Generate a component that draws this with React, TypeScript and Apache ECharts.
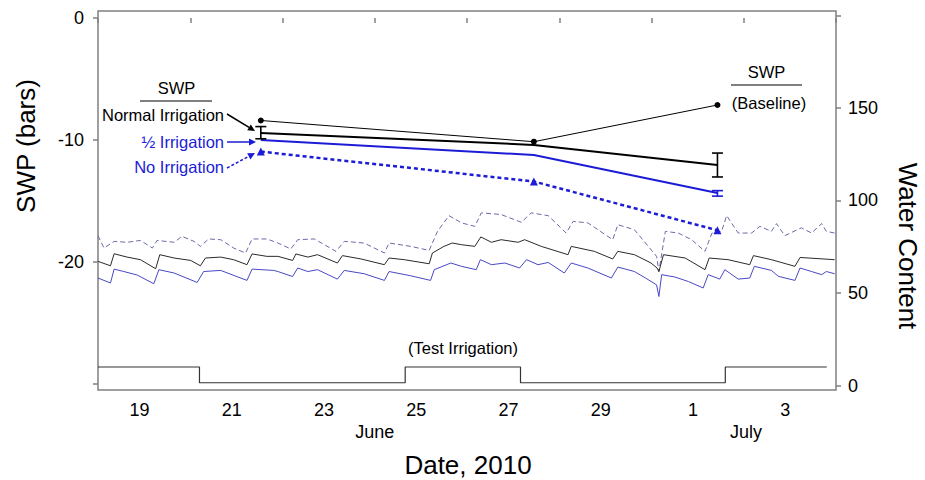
import React, { useEffect, useRef } from "react";
import * as echarts from "echarts";

// ---- Data (x = day number, June 19 = 19, July 1 = 31) ----
const tickDays = [18, 20, 22, 24, 26, 28, 30, 32, 34];
const labelDays = [18.9, 20.9, 22.9, 24.9, 26.9, 28.9, 30.9, 32.9];
const dayLabels = ["19", "21", "23", "25", "27", "29", "1", "3"];
const monthDays = [24, 32.05];
const monthLabels = ["June", "July"];

const swpTicks = [0, -10, -20, -30];
const swpLabels = [0, -10, -20];
const wcTicks = [0, 50, 100, 150, 200];
const wcLabels = [0, 50, 100, 150];

// SWP measurements (bars)
const swpDays = [21.53, 27.45, 31.43];
const swpBaseline = [-8.4, -10.14, -7.13];
const swpNormal = [-9.43, -10.4, -12.05];
const swpHalf = [-10.0, -11.23, -14.35];
const swpNone = [-10.95, -13.4, -17.4];
const normalErr = [
  [21.53, -8.9, -9.9],
  [31.43, -11.07, -13.03],
];
const halfErr = [[31.43, -14.15, -14.6]];

// Water content traces [day, value]
const waterNormal = [
  [18.0, 67.1], [18.27, 64.7], [18.35, 71.2], [18.63, 69.4], [18.92, 68.0], [19.25, 63.1],
  [19.34, 70.7], [19.65, 68.9], [20.01, 67.6], [20.22, 64.7], [20.33, 68.9], [20.66, 69.4],
  [20.94, 68.0], [21.23, 65.3], [21.34, 71.1], [21.66, 69.8], [21.9, 69.8], [22.22, 67.6],
  [22.29, 71.1], [22.55, 69.4], [22.76, 70.7], [23.19, 66.2], [23.3, 70.2], [23.7, 68.4],
  [24.21, 65.3], [24.31, 68.9], [24.64, 68.0], [25.18, 65.8], [25.25, 71.6], [25.5, 75.2],
  [25.68, 77.0], [25.88, 76.1], [26.17, 75.2], [26.3, 80.3], [26.53, 77.4], [26.74, 78.8],
  [27.11, 77.4], [27.25, 78.8], [27.61, 75.2], [28.19, 70.7], [28.26, 75.2], [28.76, 72.5],
  [29.16, 68.4], [29.27, 72.5], [29.63, 70.7], [29.99, 66.2], [30.12, 63.5], [30.16, 61.6],
  [30.26, 70.7], [30.73, 68.9], [31.16, 62.6], [31.25, 68.9], [31.66, 68.0], [32.13, 65.3],
  [32.21, 70.2], [32.6, 68.0], [33.11, 64.4], [33.22, 69.2], [33.97, 68.0],
];
const waterHalf = [
  [18.0, 58.1], [18.27, 55.4], [18.35, 62.9], [18.56, 61.6], [18.85, 59.7], [19.21, 55.0],
  [19.32, 62.6], [19.65, 60.8], [20.15, 55.7], [20.29, 61.6], [20.66, 62.2], [21.23, 56.8],
  [21.34, 62.9], [21.81, 62.2], [21.9, 61.6], [22.22, 58.9], [22.33, 63.5], [22.55, 61.6],
  [22.76, 62.6], [23.19, 57.5], [23.34, 62.2], [23.77, 60.4], [24.21, 56.8], [24.31, 61.6],
  [24.78, 59.3], [25.21, 56.8], [25.29, 62.6], [25.65, 66.2], [25.88, 64.4], [26.2, 62.6],
  [26.29, 68.0], [26.53, 65.3], [26.82, 66.2], [27.14, 63.5], [27.29, 68.0], [27.54, 65.3],
  [27.76, 66.5], [28.11, 60.8], [28.26, 66.2], [28.62, 63.5], [29.13, 58.1], [29.27, 64.0],
  [29.63, 61.6], [29.87, 58.1], [30.11, 54.4], [30.16, 48.1], [30.22, 59.9], [30.51, 58.6],
  [30.8, 56.2], [31.12, 52.7], [31.23, 59.9], [31.48, 57.5], [31.59, 62.6], [31.88, 57.5],
  [32.13, 58.1], [32.23, 64.4], [32.6, 62.2], [32.75, 59.0], [33.11, 56.8], [33.22, 63.5],
  [33.47, 61.6], [33.69, 59.9], [33.79, 61.6], [33.97, 60.4],
];
const waterNone = [
  [18.0, 81.0], [18.13, 74.3], [18.35, 77.9], [18.63, 77.4], [18.92, 78.4], [19.18, 74.3],
  [19.28, 78.4], [19.65, 77.4], [19.82, 80.6], [20.08, 77.9], [20.22, 75.2], [20.4, 79.2],
  [20.66, 78.8], [20.94, 74.3], [21.2, 71.6], [21.34, 79.2], [21.66, 79.2], [21.9, 77.0],
  [22.18, 73.8], [22.33, 78.8], [22.69, 79.2], [23.16, 72.5], [23.34, 77.9], [23.77, 77.0],
  [24.21, 71.6], [24.31, 77.0], [24.78, 75.2], [25.18, 73.0], [25.36, 83.3], [25.61, 91.8],
  [25.88, 87.9], [26.17, 86.0], [26.31, 93.3], [26.74, 92.4], [27.18, 88.2], [27.39, 93.3],
  [27.76, 91.8], [28.15, 82.4], [28.3, 88.7], [28.62, 87.9], [29.16, 78.8], [29.27, 86.9],
  [29.63, 84.2], [29.87, 77.0], [30.11, 69.8], [30.16, 61.6], [30.3, 83.3], [30.58, 82.4],
  [30.87, 78.8], [31.16, 72.5], [31.31, 82.4], [31.52, 83.3], [31.63, 91.8], [31.88, 82.4],
  [32.17, 82.4], [32.35, 86.0], [32.6, 83.3], [32.71, 87.5], [32.89, 81.0], [33.25, 85.2],
  [33.47, 82.4], [33.69, 87.5], [33.79, 83.3], [33.97, 82.4],
];
// Test irrigation schedule (step trace, water content axis)
const irrigation = [
  [18.0, 10], [20.2, 1.5], [24.66, 10], [27.16, 1.5], [31.6, 10], [33.8, 10],
];

const FONT = "'Liberation Sans', Arial, sans-serif";
const AXIS_GRAY = "#808080";
const SWP_BLUE = "#1c1cd6";

function zip(xs: number[], ys: number[]) {
  return xs.map((x, i) => [x, ys[i]]);
}

function arrow(x1: number, y1: number, x2: number, y2: number, color: string, dashed: boolean) {
  const dx = x2 - x1;
  const dy = y2 - y1;
  const len = Math.sqrt(dx * dx + dy * dy);
  const ux = dx / len;
  const uy = dy / len;
  const L = 7;
  const W = 3.5;
  const bx = x2 - ux * L;
  const by = y2 - uy * L;
  return [
    {
      type: "line",
      shape: { x1, y1, x2: bx, y2: by },
      style: { stroke: color, lineWidth: 1.5, lineDash: dashed ? [3, 2] : null },
    },
    {
      type: "polygon",
      shape: {
        points: [
          [x2, y2],
          [bx - uy * W, by + ux * W],
          [bx + uy * W, by - ux * W],
        ],
      },
      style: { fill: color },
    },
  ];
}

function errRender(color: string) {
  return (params: any, api: any) => {
    const x = api.value(0);
    const p1 = api.coord([x, api.value(1)]);
    const p2 = api.coord([x, api.value(2)]);
    const w = 5.5;
    const st = { stroke: color, lineWidth: 1.6 };
    return {
      type: "group",
      children: [
        { type: "line", shape: { x1: p1[0], y1: p1[1], x2: p2[0], y2: p2[1] }, style: st },
        { type: "line", shape: { x1: p1[0] - w, y1: p1[1], x2: p1[0] + w, y2: p1[1] }, style: st },
        { type: "line", shape: { x1: p2[0] - w, y1: p2[1], x2: p2[0] + w, y2: p2[1] }, style: st },
      ],
    };
  };
}

export default function App() {
  const ref = useRef<HTMLDivElement>(null);

  useEffect(() => {
    if (!ref.current) return;
    const chart = echarts.init(ref.current, null, { renderer: "svg" });

    const textStyle = (text: string, size: number, color = "#000") => ({
      text,
      fill: color,
      font: `${size}px ${FONT}`,
      align: "center",
      verticalAlign: "middle",
    });

    const graphic: any[] = [
      // axis titles
      { type: "text", x: 26, y: 146, rotation: Math.PI / 2, style: textStyle("SWP (bars)", 26) },
      { type: "text", x: 908, y: 246, rotation: -Math.PI / 2, style: textStyle("Water Content", 26) },
      { type: "text", x: 468, y: 465, style: textStyle("Date, 2010", 26) },
      // left legend
      { type: "text", x: 176.5, y: 88, style: textStyle("SWP", 16.5) },
      { type: "line", shape: { x1: 140, y1: 101, x2: 212, y2: 101 }, style: { stroke: "#000", lineWidth: 1 } },
      { type: "text", x: 224, y: 115, style: { ...textStyle("Normal Irrigation", 16.5), align: "right" } },
      { type: "text", x: 224, y: 142, style: { ...textStyle("½ Irrigation", 16.5, SWP_BLUE), align: "right" } },
      { type: "text", x: 224, y: 167, style: { ...textStyle("No Irrigation", 16.5, SWP_BLUE), align: "right" } },
      ...arrow(227, 114, 255, 131, "#000", false),
      ...arrow(227, 142, 256, 142, SWP_BLUE, false),
      ...arrow(227, 168, 255, 153, SWP_BLUE, true),
      // right legend
      { type: "text", x: 766.5, y: 72, style: textStyle("SWP", 16.5) },
      { type: "line", shape: { x1: 731, y1: 85, x2: 802, y2: 85 }, style: { stroke: "#000", lineWidth: 1 } },
      { type: "text", x: 769, y: 103, style: textStyle("(Baseline)", 16.5) },
      // test irrigation label
      { type: "text", x: 463, y: 348, style: textStyle("(Test Irrigation)", 16.5) },
    ];

    chart.setOption({
      animation: false,
      backgroundColor: "#fff",
      textStyle: { fontFamily: FONT },
      grid: {
        left: 98,
        right: 89,
        top: 11,
        bottom: 90,
        show: true,
        borderColor: AXIS_GRAY,
        borderWidth: 1.5,
        backgroundColor: "transparent",
      },
      xAxis: [
        {
          type: "value",
          min: 18,
          max: 34,
          position: "bottom",
          splitLine: { show: false },
          axisLine: { show: false },
          axisTick: {
            show: true,
            length: 5,
            customValues: tickDays,
            lineStyle: { color: AXIS_GRAY, width: 1.5 },
          },
          axisLabel: {
            customValues: labelDays,
            formatter: (v: number) => {
              const i = labelDays.findIndex((d) => Math.abs(d - v) < 0.01);
              return i >= 0 ? dayLabels[i] : "";
            },
            fontSize: 18,
            color: "#000",
            margin: 11,
            fontFamily: FONT,
          },
        },
        {
          type: "value",
          min: 18,
          max: 34,
          position: "bottom",
          splitLine: { show: false },
          axisLine: { show: false },
          axisTick: { show: false },
          axisLabel: {
            customValues: monthDays,
            formatter: (v: number) => {
              const i = monthDays.findIndex((d) => Math.abs(d - v) < 0.01);
              return i >= 0 ? monthLabels[i] : "";
            },
            fontSize: 18,
            color: "#000",
            margin: 33,
            fontFamily: FONT,
          },
        },
      ],
      yAxis: [
        {
          type: "value",
          position: "left",
          min: -30.49,
          max: 0.574,
          splitLine: { show: false },
          axisLine: { show: false },
          axisTick: {
            show: true,
            length: 5,
            customValues: swpTicks,
            lineStyle: { color: AXIS_GRAY, width: 1.5 },
          },
          axisLabel: {
            customValues: swpLabels,
            fontSize: 18,
            color: "#000",
            margin: 14,
            fontFamily: FONT,
          },
        },
        {
          type: "value",
          position: "right",
          min: -2.43,
          max: 202.4,
          splitLine: { show: false },
          axisLine: { show: false },
          axisTick: {
            show: true,
            length: 5,
            customValues: wcTicks,
            lineStyle: { color: AXIS_GRAY, width: 1.5 },
          },
          axisLabel: {
            customValues: wcLabels,
            fontSize: 18,
            color: "#000",
            margin: 12,
            fontFamily: FONT,
          },
        },
      ],
      series: [
        {
          name: "Test Irrigation",
          type: "line",
          yAxisIndex: 1,
          step: "end",
          data: irrigation,
          symbol: "none",
          lineStyle: { color: "#333", width: 1.2 },
        },
        {
          name: "WC No Irrigation",
          type: "line",
          yAxisIndex: 1,
          data: waterNone,
          symbol: "none",
          lineStyle: { color: "#6a6aa8", width: 1, type: [5, 3] },
        },
        {
          name: "WC Normal",
          type: "line",
          yAxisIndex: 1,
          data: waterNormal,
          symbol: "none",
          lineStyle: { color: "#2a2a2a", width: 1 },
        },
        {
          name: "WC Half",
          type: "line",
          yAxisIndex: 1,
          data: waterHalf,
          symbol: "none",
          lineStyle: { color: "#4848c4", width: 1 },
        },
        {
          name: "SWP Baseline",
          type: "line",
          yAxisIndex: 0,
          data: zip(swpDays, swpBaseline),
          symbol: "circle",
          symbolSize: 6,
          itemStyle: { color: "#000" },
          lineStyle: { color: "#000", width: 1 },
        },
        {
          name: "SWP Normal",
          type: "line",
          yAxisIndex: 0,
          data: zip(swpDays, swpNormal),
          symbol: "none",
          lineStyle: { color: "#000", width: 2 },
        },
        {
          name: "SWP Half",
          type: "line",
          yAxisIndex: 0,
          data: zip(swpDays, swpHalf),
          symbol: "none",
          lineStyle: { color: SWP_BLUE, width: 2 },
        },
        {
          name: "SWP None",
          type: "line",
          yAxisIndex: 0,
          data: zip(swpDays, swpNone),
          symbol: "triangle",
          symbolSize: 8,
          itemStyle: { color: SWP_BLUE },
          lineStyle: { color: SWP_BLUE, width: 2.5, type: [4, 3] },
        },
        {
          name: "Normal error",
          type: "custom",
          yAxisIndex: 0,
          data: normalErr,
          encode: { x: 0, y: [1, 2] },
          renderItem: errRender("#000"),
          z: 5,
        },
        {
          name: "Half error",
          type: "custom",
          yAxisIndex: 0,
          data: halfErr,
          encode: { x: 0, y: [1, 2] },
          renderItem: errRender(SWP_BLUE),
          z: 5,
        },
      ],
      graphic,
    });

    return () => {
      chart.dispose();
    };
  }, []);

  return (
    <div
      ref={ref}
      style={{ position: "absolute", left: 0, top: 0, width: 925, height: 480 }}
    />
  );
}
